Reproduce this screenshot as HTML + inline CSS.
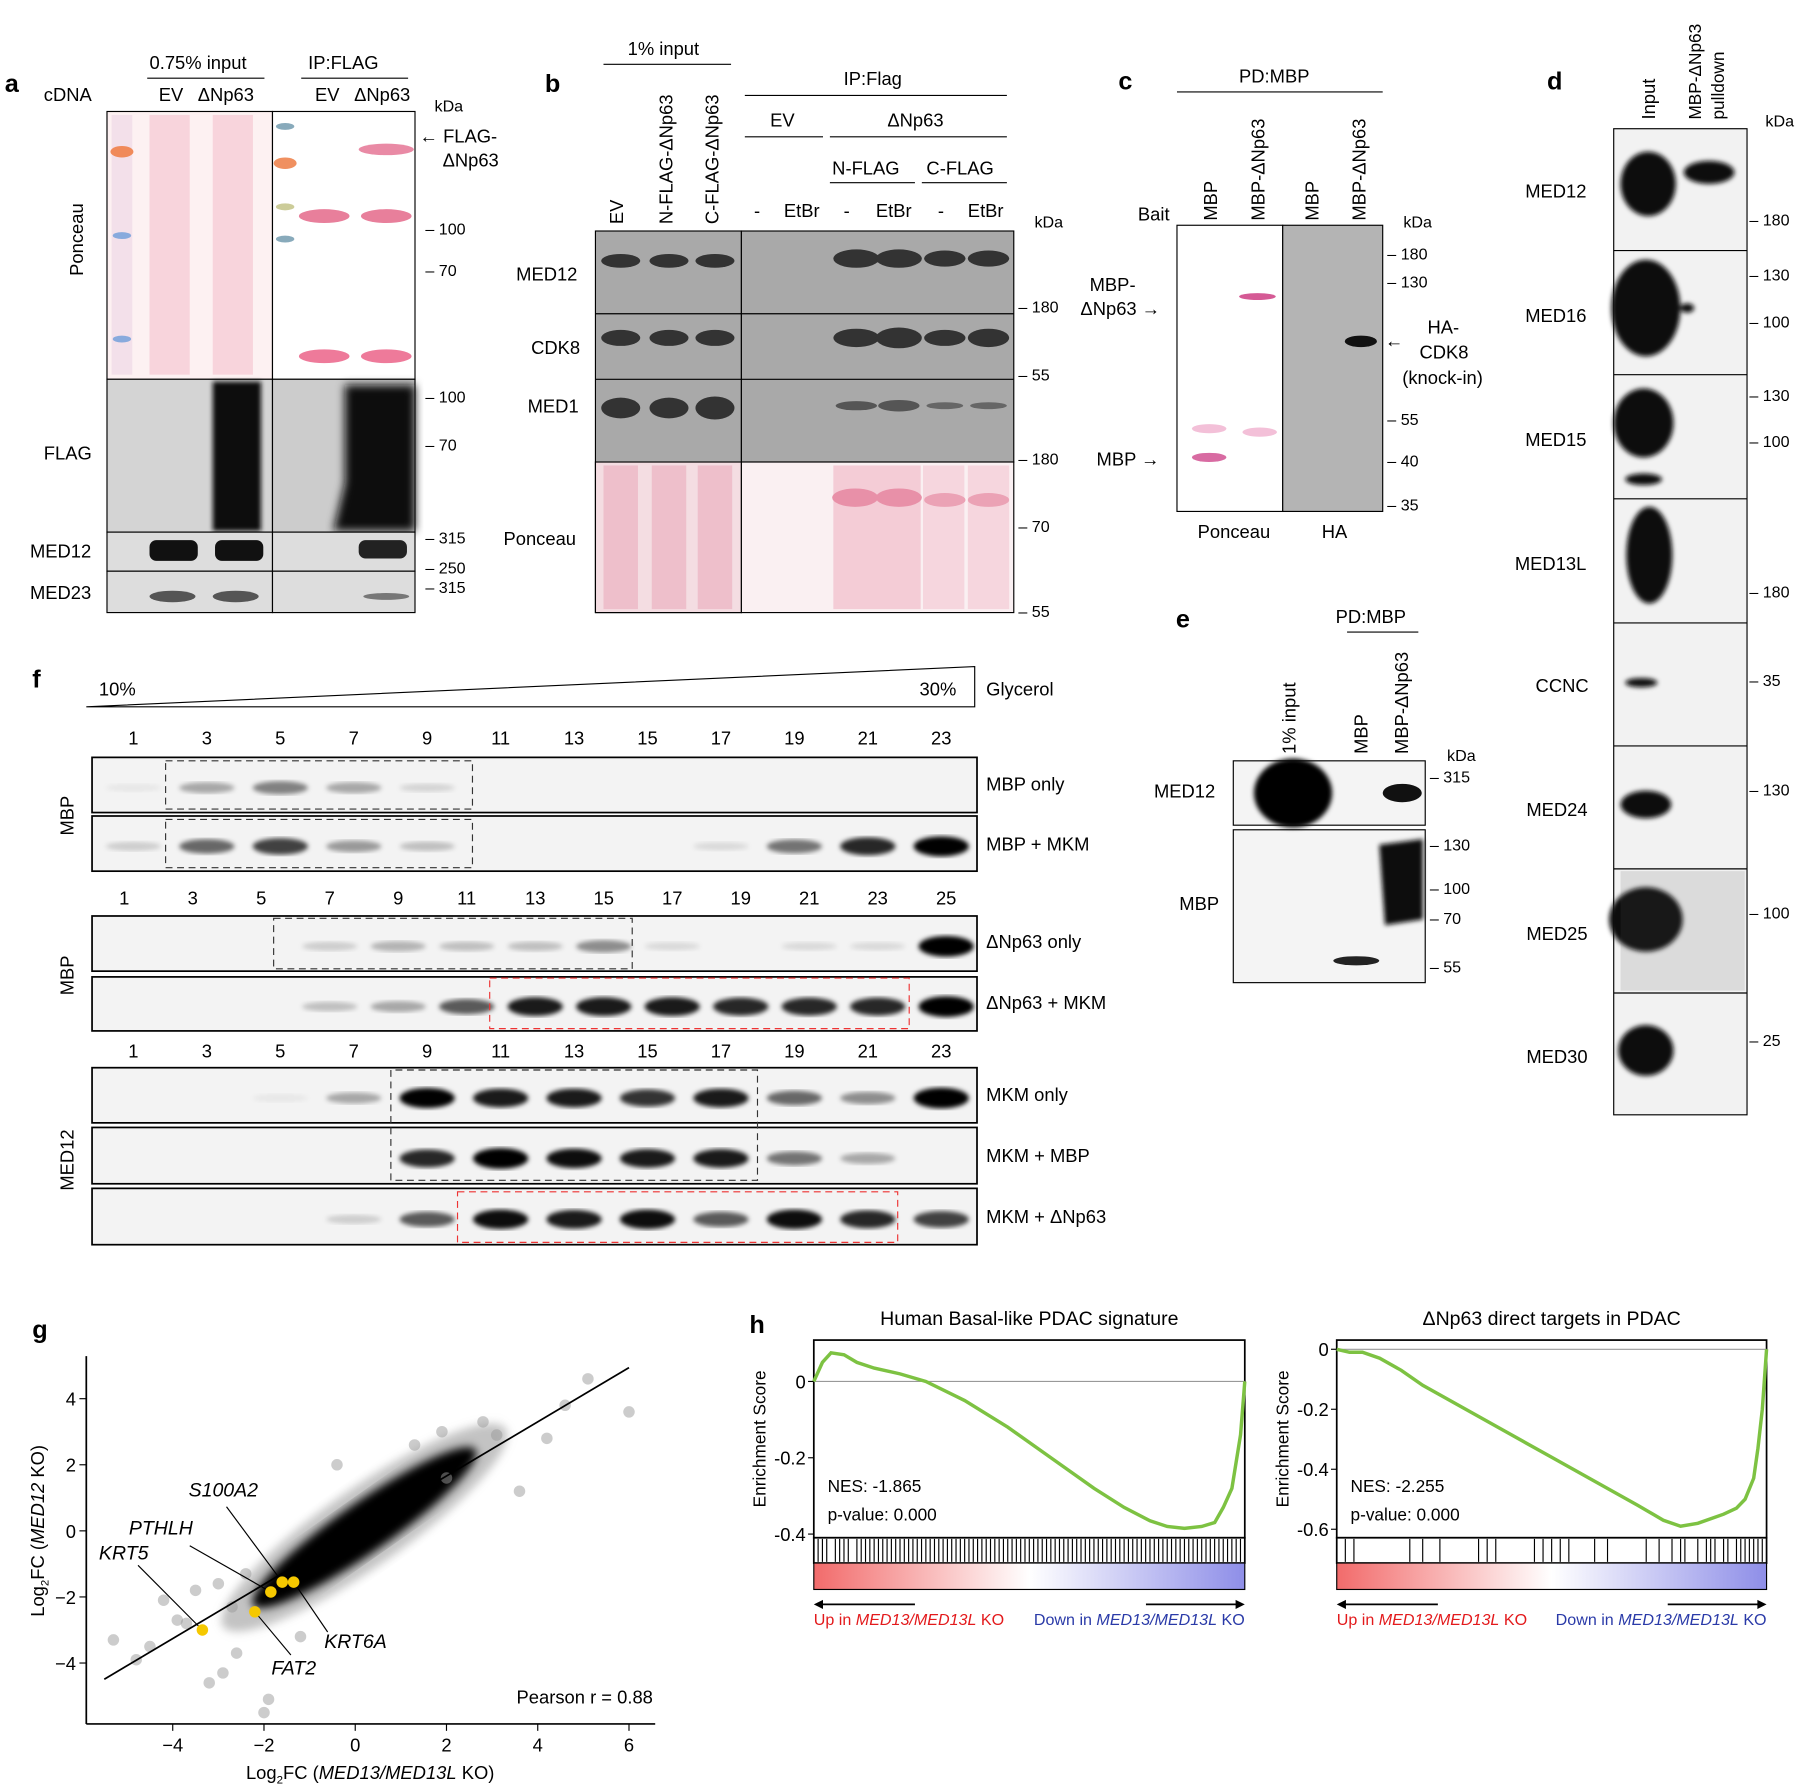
<!DOCTYPE html>
<html><head><meta charset="utf-8"><style>
html,body{margin:0;padding:0;background:#fff;overflow:hidden;}
svg{display:block;font-family:"Liberation Sans",sans-serif;}
</style></head><body>
<svg id="fig" width="1800" height="1786" viewBox="0 0 1566 1554" xmlns="http://www.w3.org/2000/svg">
<defs>
<linearGradient id="rg" x1="0" x2="1" y1="0" y2="0"><stop offset="0" stop-color="#f26b6b"/><stop offset="0.5" stop-color="#fff"/><stop offset="1" stop-color="#8e8ee8"/></linearGradient>
<filter id="bl"><feGaussianBlur stdDeviation="2"/></filter>
<filter id="bl4"><feGaussianBlur stdDeviation="4"/></filter>
</defs>
<g font-size="16" fill="#000">

<!-- Panel a -->
<g>
<text x="4" y="80" font-size="22" font-weight="bold">a</text>
<text x="38" y="88">cDNA</text>
<text x="130" y="60">0.75% input</text><line x1="128" y1="68" x2="230" y2="68" stroke="#000"/>
<text x="138" y="88">EV</text><text x="172" y="88">ΔNp63</text>
<text x="268" y="60">IP:FLAG</text><line x1="262" y1="68" x2="355" y2="68" stroke="#000"/>
<text x="274" y="88">EV</text><text x="308" y="88">ΔNp63</text>
<text x="378" y="97" font-size="14">kDa</text>
<rect x="93" y="97" width="144" height="233" fill="#fdf1f2" stroke="#000"/>
<rect x="97" y="100" width="18" height="226" fill="#f3e0ea"/>
<ellipse cx="106" cy="132" rx="10" ry="5" fill="#f08a5a"/>
<ellipse cx="106" cy="205" rx="8" ry="3" fill="#88aadd"/>
<ellipse cx="106" cy="295" rx="8" ry="3" fill="#88aadd"/>
<rect x="130" y="100" width="35" height="226" fill="#f8d4dc"/>
<rect x="185" y="100" width="35" height="226" fill="#f8d4dc"/>
<rect x="237" y="97" width="124" height="233" fill="#fff" stroke="#000"/>
<ellipse cx="248" cy="110" rx="8" ry="3" fill="#8ab"/>
<ellipse cx="248" cy="142" rx="10" ry="5" fill="#f09060"/>
<ellipse cx="248" cy="180" rx="8" ry="3" fill="#cc9"/>
<ellipse cx="248" cy="208" rx="8" ry="3" fill="#8ab"/>
<ellipse cx="336" cy="130" rx="24" ry="5" fill="#e98aa5"/>
<ellipse cx="282" cy="188" rx="22" ry="6" fill="#e87f9b"/>
<ellipse cx="336" cy="188" rx="22" ry="6" fill="#e87f9b"/>
<ellipse cx="282" cy="310" rx="22" ry="6" fill="#ee7a9a"/>
<ellipse cx="336" cy="310" rx="22" ry="6" fill="#ee7a9a"/>
<text x="365" y="124">← FLAG-</text><text x="385" y="145">ΔNp63</text>
<text x="370" y="204" font-size="14">– 100</text><text x="370" y="240" font-size="14">– 70</text>
<text x="82" y="250" font-size="16" transform="rotate(-90 72 250)">Ponceau</text>
<rect x="93" y="330" width="144" height="133" fill="#d4d4d4" stroke="#000"/>
<rect x="237" y="330" width="124" height="133" fill="#ccc" stroke="#000"/>
<rect x="185" y="332" width="42" height="130" fill="#111" filter="url(#bl)"/>
<path d="M300 335 L361 335 L361 462 L290 462 L300 420 Z" fill="#111" filter="url(#bl4)"/>
<text x="38" y="400">FLAG</text>
<text x="370" y="350" font-size="14">– 100</text><text x="370" y="392" font-size="14">– 70</text>
<rect x="93" y="463" width="144" height="34" fill="#ddd" stroke="#000"/>
<rect x="237" y="463" width="124" height="34" fill="#ddd" stroke="#000"/>
<rect x="130" y="470" width="42" height="18" rx="6" fill="#111"/><rect x="187" y="470" width="42" height="18" rx="6" fill="#111"/>
<rect x="312" y="470" width="42" height="16" rx="6" fill="#222"/>
<text x="26" y="485">MED12</text>
<rect x="93" y="497" width="144" height="36" fill="#ddd" stroke="#000"/>
<rect x="237" y="497" width="124" height="36" fill="#ddd" stroke="#000"/>
<ellipse cx="150" cy="519" rx="20" ry="5" fill="#555"/><ellipse cx="205" cy="519" rx="20" ry="5" fill="#555"/>
<ellipse cx="336" cy="519" rx="20" ry="3" fill="#777"/>
<text x="26" y="521">MED23</text>
<text x="370" y="473" font-size="14">– 315</text><text x="370" y="499" font-size="14">– 250</text><text x="370" y="516" font-size="14">– 315</text>
</g>

<!-- Panel b -->
<g>
<text x="474" y="80" font-size="22" font-weight="bold">b</text>
<text x="546" y="48">1% input</text><line x1="525" y1="56" x2="636" y2="56" stroke="#000"/>
<text x="542" y="195" transform="rotate(-90 542 195)">EV</text>
<text x="585" y="195" transform="rotate(-90 585 195)">N-FLAG-ΔNp63</text>
<text x="625" y="195" transform="rotate(-90 625 195)">C-FLAG-ΔNp63</text>
<text x="734" y="74">IP:Flag</text><line x1="648" y1="83" x2="876" y2="83" stroke="#000"/>
<text x="670" y="110">EV</text><line x1="648" y1="119" x2="716" y2="119" stroke="#000"/>
<text x="772" y="110">ΔNp63</text><line x1="722" y1="119" x2="876" y2="119" stroke="#000"/>
<text x="724" y="152">N-FLAG</text><line x1="722" y1="159" x2="796" y2="159" stroke="#000"/>
<text x="806" y="152">C-FLAG</text><line x1="802" y1="159" x2="876" y2="159" stroke="#000"/>
<text x="656" y="189">-</text><text x="682" y="189">EtBr</text><text x="734" y="189">-</text><text x="762" y="189">EtBr</text><text x="816" y="189">-</text><text x="842" y="189">EtBr</text>
<text x="900" y="198" font-size="14">kDa</text>
<rect x="518" y="201" width="127" height="332" fill="#a9a9a9" stroke="#000"/>
<rect x="645" y="201" width="237" height="201" fill="#a9a9a9" stroke="#000"/>
<line x1="518" y1="273" x2="882" y2="273" stroke="#000"/><line x1="518" y1="330" x2="882" y2="330" stroke="#000"/><line x1="518" y1="402" x2="882" y2="402" stroke="#000"/>
<rect x="518" y="402" width="127" height="131" fill="#f4dde2" stroke="#000"/>
<rect x="645" y="402" width="237" height="131" fill="#faf0f2" stroke="#000"/>
<g fill="#333">
<ellipse cx="540" cy="227" rx="17" ry="6"/><ellipse cx="582" cy="227" rx="17" ry="6"/><ellipse cx="622" cy="227" rx="17" ry="6"/>
<ellipse cx="745" cy="225" rx="20" ry="8"/><ellipse cx="782" cy="225" rx="20" ry="8"/><ellipse cx="822" cy="225" rx="18" ry="7"/><ellipse cx="860" cy="225" rx="18" ry="7"/>
<ellipse cx="540" cy="294" rx="17" ry="7"/><ellipse cx="582" cy="294" rx="17" ry="7"/><ellipse cx="622" cy="294" rx="17" ry="7"/>
<ellipse cx="745" cy="294" rx="20" ry="8"/><ellipse cx="782" cy="294" rx="20" ry="9"/><ellipse cx="822" cy="294" rx="18" ry="7"/><ellipse cx="860" cy="294" rx="18" ry="8"/>
<ellipse cx="540" cy="355" rx="17" ry="9"/><ellipse cx="582" cy="355" rx="17" ry="9"/><ellipse cx="622" cy="355" rx="17" ry="10"/>
<ellipse cx="745" cy="353" rx="18" ry="4" fill="#555"/><ellipse cx="782" cy="353" rx="18" ry="5" fill="#555"/><ellipse cx="822" cy="353" rx="16" ry="3" fill="#666"/><ellipse cx="860" cy="353" rx="16" ry="3" fill="#666"/>
</g>
<rect x="525" y="405" width="30" height="125" fill="#eebfcb"/><rect x="567" y="405" width="30" height="125" fill="#eebfcb"/><rect x="607" y="405" width="30" height="125" fill="#eebfcb"/>
<rect x="725" y="405" width="38" height="125" fill="#f4ccd6"/><rect x="763" y="405" width="38" height="125" fill="#f4ccd6"/><rect x="803" y="405" width="36" height="125" fill="#f6d6de"/><rect x="842" y="405" width="36" height="125" fill="#f6d6de"/>
<ellipse cx="744" cy="433" rx="20" ry="8" fill="#e890a8"/><ellipse cx="782" cy="433" rx="20" ry="8" fill="#e890a8"/><ellipse cx="822" cy="435" rx="18" ry="6" fill="#eba2b5"/><ellipse cx="860" cy="435" rx="18" ry="6" fill="#eba2b5"/>
<text x="449" y="244">MED12</text><text x="462" y="308">CDK8</text><text x="459" y="359">MED1</text><text x="438" y="474">Ponceau</text>
<text x="886" y="272" font-size="14">– 180</text><text x="886" y="331" font-size="14">– 55</text><text x="886" y="404" font-size="14">– 180</text><text x="886" y="463" font-size="14">– 70</text><text x="886" y="537" font-size="14">– 55</text>
</g>

<!-- Panel c -->
<g>
<text x="973" y="78" font-size="22" font-weight="bold">c</text>
<text x="1078" y="72">PD:MBP</text><line x1="1024" y1="80" x2="1203" y2="80" stroke="#000"/>
<text x="990" y="192">Bait</text>
<text x="1059" y="192" transform="rotate(-90 1059 192)">MBP</text>
<text x="1100" y="192" transform="rotate(-90 1100 192)">MBP-ΔNp63</text>
<text x="1147" y="192" transform="rotate(-90 1147 192)">MBP</text>
<text x="1188" y="192" transform="rotate(-90 1188 192)">MBP-ΔNp63</text>
<text x="1221" y="198" font-size="14">kDa</text>
<rect x="1024" y="196" width="92" height="249" fill="#fff" stroke="#000"/>
<rect x="1116" y="196" width="87" height="249" fill="#b4b4b4" stroke="#000"/>
<ellipse cx="1094" cy="258" rx="16" ry="3" fill="#d55a95"/>
<ellipse cx="1052" cy="373" rx="15" ry="4" fill="#f3c0d8"/><ellipse cx="1096" cy="376" rx="15" ry="4" fill="#f3c0d8"/>
<ellipse cx="1052" cy="398" rx="15" ry="4" fill="#d86ba2"/>
<ellipse cx="1184" cy="297" rx="14" ry="5" fill="#111"/>
<text x="948" y="253">MBP-</text><text x="940" y="274">ΔNp63 →</text>
<text x="954" y="405">MBP →</text>
<text x="1205" y="302">← </text><text x="1242" y="290">HA-</text><text x="1235" y="312">CDK8</text><text x="1220" y="334">(knock-in)</text>
<text x="1207" y="226" font-size="14">– 180</text><text x="1207" y="250" font-size="14">– 130</text><text x="1207" y="370" font-size="14">– 55</text><text x="1207" y="406" font-size="14">– 40</text><text x="1207" y="444" font-size="14">– 35</text>
<text x="1042" y="468">Ponceau</text><text x="1150" y="468">HA</text>
</g>

<!-- Panel d -->
<g>
<text x="1346" y="78" font-size="22" font-weight="bold">d</text>
<text x="1440" y="104" transform="rotate(-90 1440 104)">Input</text>
<text x="1480" y="104" transform="rotate(-90 1480 104)" font-size="15">MBP-ΔNp63</text>
<text x="1500" y="104" transform="rotate(-90 1500 104)" font-size="15">pulldown</text>
<text x="1536" y="110" font-size="14">kDa</text>
<rect x="1404" y="112" width="116" height="858" fill="#f2f2f2" stroke="#000"/>
<g stroke="#000"><line x1="1404" y1="218" x2="1520" y2="218"/><line x1="1404" y1="326" x2="1520" y2="326"/><line x1="1404" y1="434" x2="1520" y2="434"/><line x1="1404" y1="542" x2="1520" y2="542"/><line x1="1404" y1="649" x2="1520" y2="649"/><line x1="1404" y1="756" x2="1520" y2="756"/><line x1="1404" y1="864" x2="1520" y2="864"/></g>
<g fill="#0a0a0a" filter="url(#bl)">
<ellipse cx="1434" cy="160" rx="24" ry="28"/><ellipse cx="1487" cy="150" rx="22" ry="10"/>
<ellipse cx="1432" cy="268" rx="30" ry="42"/><ellipse cx="1468" cy="268" rx="6" ry="4"/>
<ellipse cx="1430" cy="368" rx="26" ry="30"/><ellipse cx="1430" cy="417" rx="16" ry="5"/>
<ellipse cx="1435" cy="483" rx="20" ry="42"/>
<ellipse cx="1428" cy="594" rx="14" ry="4"/>
<ellipse cx="1432" cy="700" rx="22" ry="12"/>
<ellipse cx="1432" cy="800" rx="32" ry="28"/>
<ellipse cx="1432" cy="914" rx="24" ry="22"/>
</g>
<rect x="1410" y="758" width="108" height="104" fill="#555" opacity="0.15"/>
<text x="1327" y="172">MED12</text><text x="1327" y="280">MED16</text><text x="1327" y="388">MED15</text><text x="1318" y="496">MED13L</text><text x="1336" y="602">CCNC</text><text x="1328" y="710">MED24</text><text x="1328" y="818">MED25</text><text x="1328" y="925">MED30</text>
<g font-size="14"><text x="1522" y="196">– 180</text><text x="1522" y="244">– 130</text><text x="1522" y="285">– 100</text><text x="1522" y="349">– 130</text><text x="1522" y="389">– 100</text><text x="1522" y="520">– 180</text><text x="1522" y="597">– 35</text><text x="1522" y="692">– 130</text><text x="1522" y="799">– 100</text><text x="1522" y="910">– 25</text></g>
</g>

<!-- Panel e -->
<g>
<text x="1023" y="546" font-size="22" font-weight="bold">e</text>
<text x="1162" y="542">PD:MBP</text><line x1="1172" y1="550" x2="1234" y2="550" stroke="#000"/>
<text x="1127" y="656" transform="rotate(-90 1127 656)">1% input</text>
<text x="1190" y="656" transform="rotate(-90 1190 656)">MBP</text>
<text x="1225" y="656" transform="rotate(-90 1225 656)">MBP-ΔNp63</text>
<text x="1259" y="662" font-size="14">kDa</text>
<rect x="1073" y="662" width="167" height="56" fill="#f4f4f4" stroke="#000"/>
<rect x="1073" y="722" width="167" height="133" fill="#f4f4f4" stroke="#000"/>
<ellipse cx="1125" cy="690" rx="34" ry="30" fill="#050505" filter="url(#bl)"/>
<ellipse cx="1220" cy="690" rx="17" ry="8" fill="#111"/>
<path d="M1200 735 L1238 730 L1238 800 L1205 805 Z" fill="#111" filter="url(#bl)"/>
<ellipse cx="1180" cy="836" rx="20" ry="4" fill="#222"/>
<text x="1004" y="694">MED12</text><text x="1026" y="792">MBP</text>
<g font-size="14"><text x="1244" y="681">– 315</text><text x="1244" y="740">– 130</text><text x="1244" y="778">– 100</text><text x="1244" y="804">– 70</text><text x="1244" y="846">– 55</text></g>
</g>

<!-- Panel f -->
<g>
<text x="28" y="598" font-size="22" font-weight="bold">f</text>
<polygon points="75,615 848,580 848,615" fill="none" stroke="#000"/>
<text x="86" y="605">10%</text><text x="800" y="605">30%</text><text x="858" y="605">Glycerol</text>
<g id="frows"></g>
<text x="64" y="727" transform="rotate(-90 64 727)">MBP</text>
<text x="64" y="866" transform="rotate(-90 64 866)">MBP</text>
<text x="64" y="1036" transform="rotate(-90 64 1036)">MED12</text>
<text x="858" y="688">MBP only</text><text x="858" y="740">MBP + MKM</text>
<text x="858" y="825">ΔNp63 only</text><text x="858" y="878">ΔNp63 + MKM</text>
<text x="858" y="958">MKM only</text><text x="858" y="1011">MKM + MBP</text><text x="858" y="1064">MKM + ΔNp63</text>
<rect x="144" y="662" width="267" height="42" fill="none" stroke="#333" stroke-dasharray="6,4"/>
<rect x="144" y="713" width="267" height="42" fill="none" stroke="#333" stroke-dasharray="6,4"/>
<rect x="238" y="799" width="312" height="44" fill="none" stroke="#333" stroke-dasharray="6,4"/>
<rect x="426" y="851" width="365" height="44" fill="none" stroke="#e33" stroke-dasharray="6,4"/>
<path d="M340 1027 L340 931 L659 931 L659 1027 Z" fill="none" stroke="#333" stroke-dasharray="6,4"/>
<rect x="398" y="1037" width="383" height="44" fill="none" stroke="#e33" stroke-dasharray="6,4"/>
</g>

<!-- Panel g -->
<g>
<text x="28" y="1164" font-size="22" font-weight="bold">g</text>
<g id="gchart"></g>
</g>

<!-- Panel h -->
<g>
<text x="652" y="1160" font-size="22" font-weight="bold">h</text>
<g id="hchart"></g>
</g>
</g>
</svg>
<script>
var NS="http://www.w3.org/2000/svg";
function mk(tag,attrs,parent,txt){var e=document.createElementNS(NS,tag);for(var k in attrs)e.setAttribute(k,attrs[k]);if(txt!==undefined)e.textContent=txt;parent.appendChild(e);return e;}

// ---- Panel f: fraction lanes ----
var fLabelsA=[1,3,5,7,9,11,13,15,17,19,21,23];
var fLabelsB=[1,3,5,7,9,11,13,15,17,19,21,23,25];
var fIntMBPonly=[0.05,0.3,0.45,0.3,0.12,0,0,0,0,0,0,0];
var fIntMBPmkm=[0.15,0.55,0.7,0.35,0.2,0,0,0,0.1,0.5,0.8,0.95];
var fIntNponly=[0,0,0,0.15,0.25,0.2,0.2,0.4,0.1,0,0.1,0.1,1];
var fIntNpmkm=[0,0,0,0.2,0.3,0.6,0.85,0.85,0.85,0.8,0.8,0.8,1];
var fIntMKMonly=[0,0,0.05,0.3,0.95,0.85,0.85,0.75,0.85,0.55,0.4,1];
var fIntMKMmbp=[0,0,0,0,0.8,1,0.9,0.85,0.85,0.5,0.3,0];
var fIntMKMnp=[0,0,0,0.15,0.6,0.9,0.85,0.9,0.6,0.9,0.8,0.7];
var fg=document.getElementById('frows');
function laneRow(y,h,labels,ints,x0,dx,numY){
  var r=mk('rect',{x:80,y:y,width:770,height:h,fill:'#f3f3f3',stroke:'#000','stroke-width':1.5},fg);
  
  
  if(numY){labels.forEach(function(l,i){var t=mk('text',{x:x0+i*dx,y:numY,'text-anchor':'middle'},fg,l);});}
  ints.forEach(function(v,i){if(v<=0)return;var e=mk('ellipse',{cx:x0+i*dx,cy:y+h*0.55,rx:24,ry:3+6*v,fill:'#000','fill-opacity':Math.min(1,v*1.05),filter:'url(#bl)'},fg);});
}
laneRow(659,48,fLabelsA,fIntMBPonly,116,63.9,648);
laneRow(710,48,fLabelsA,fIntMBPmkm,116,63.9,null);
laneRow(797,48,fLabelsB,fIntNponly,108,59.6,787);
laneRow(850,47,fLabelsB,fIntNpmkm,108,59.6,null);
laneRow(929,48,fLabelsA,fIntMKMonly,116,63.9,920);
laneRow(981,49,fLabelsA,fIntMKMmbp,116,63.9,null);
laneRow(1034,49,fLabelsA,fIntMKMnp,116,63.9,null);

// ---- Panel g: scatter ----
var gXTicks=[-4,-2,0,2,4,6];
var gYTicks=[-4,-2,0,2,4];
var gOutX=[-5.3,-4.8,-4.5,-4.2,-3.9,-3.5,-3.2,-2.9,-2.6,-2.4,-2.0,-1.9,-3.7,-1.2,1.3,2.0,2.8,3.1,3.6,4.2,4.6,5.1,6.0,-2.7,-3.0,1.9,-0.4];
var gOutY=[-3.3,-3.9,-3.5,-2.1,-2.7,-1.8,-4.6,-4.3,-3.7,-1.3,-5.5,-5.1,-2.8,-3.2,2.6,1.6,3.3,2.9,1.2,2.8,3.8,4.6,3.6,-2.3,-1.6,3.0,2.0];
var gHiNames=["KRT5","FAT2","PTHLH","S100A2","KRT6A"];
var gHiX=[-3.35,-2.2,-1.85,-1.6,-1.35];
var gHiY=[-3.0,-2.45,-1.85,-1.55,-1.55];
var gSlope=0.82, gIntercept=0.02;
var gc=document.getElementById('gchart');
function gx(v){return 309+v*39.7;}
function gy(v){return 1332-v*28.75;}
mk('line',{x1:75,y1:1500,x2:570,y2:1500,stroke:'#000','stroke-width':1.5},gc);
mk('line',{x1:75,y1:1180,x2:75,y2:1500,stroke:'#000','stroke-width':1.5},gc);
gXTicks.forEach(function(t){mk('line',{x1:gx(t),y1:1500,x2:gx(t),y2:1506,stroke:'#000'},gc);var e=mk('text',{x:gx(t),y:1524,'text-anchor':'middle'},gc,t<0?'−'+(-t):t);});
gYTicks.forEach(function(t){mk('line',{x1:69,y1:gy(t),x2:75,y2:gy(t),stroke:'#000'},gc);var e=mk('text',{x:66,y:gy(t)+6,'text-anchor':'end'},gc,t<0?'−'+(-t):t);});
var xt=mk('text',{x:322,y:1548,'text-anchor':'middle'},gc);


xt.innerHTML='Log<tspan font-size="10" dy="4">2</tspan><tspan dy="-4">FC (</tspan><tspan font-style="italic">MED13/MED13L</tspan> KO)';
var yt=mk('text',{x:0,y:0,'text-anchor':'middle',transform:'translate(38 1332) rotate(-90)'},gc);


yt.innerHTML='Log<tspan font-size="10" dy="4">2</tspan><tspan dy="-4">FC (</tspan><tspan font-style="italic">MED12</tspan> KO)';
// dense cloud (density shape, not data)
var cx0=gx(0.2), cy0=gy(0.1);
mk('ellipse',{cx:cx0,cy:cy0,rx:150,ry:34,transform:'rotate(-35 '+cx0+' '+cy0+')',fill:'#888','fill-opacity':0.5,filter:'url(#bl4)'},gc);
mk('ellipse',{cx:cx0,cy:cy0,rx:118,ry:22,transform:'rotate(-35 '+cx0+' '+cy0+')',fill:'#000',filter:'url(#bl4)'},gc);
gOutX.forEach(function(v,i){var c=mk('circle',{cx:gx(v),cy:gy(gOutY[i]),r:5,fill:'#999','fill-opacity':0.5},gc);});
var rl=mk('line',{x1:gx(-5.5),y1:gy(-5.5*gSlope+gIntercept),x2:gx(6),y2:gy(6*gSlope+gIntercept),stroke:'#000','stroke-width':1.5},gc);


var gLabPos=[[86,1357,-1],[236,1457,1],[112,1335,-1],[164,1302,-1],[282,1434,1]];
var gLabEnd=[[120,1362],[253,1440],[165,1345],[197,1311],[285,1420]];
gHiX.forEach(function(v,i){
  mk('line',{x1:gLabEnd[i][0],y1:gLabEnd[i][1],x2:gx(v),y2:gy(gHiY[i]),stroke:'#000'},gc);
  var c=mk('circle',{cx:gx(v),cy:gy(gHiY[i]),r:5,fill:'#f5c800'},gc);
  
  
  var t=mk('text',{x:gLabPos[i][0],y:gLabPos[i][1],'font-style':'italic','font-size':17},gc,gHiNames[i]);
  
  
});
var pr=mk('text',{x:568,y:1482,'text-anchor':'end'},gc,'Pearson r = 0.88');



// ---- Panel h: GSEA ----
var h1Rank=[0,0.02,0.04,0.07,0.1,0.14,0.2,0.26,0.35,0.45,0.55,0.65,0.72,0.78,0.82,0.86,0.9,0.93,0.95,0.97,0.99,1.0];
var h1ES=[0,0.05,0.075,0.07,0.05,0.035,0.02,0,-0.05,-0.12,-0.2,-0.28,-0.33,-0.365,-0.38,-0.385,-0.38,-0.37,-0.33,-0.28,-0.14,0];
var h2Rank=[0,0.03,0.06,0.1,0.15,0.2,0.3,0.4,0.5,0.6,0.7,0.76,0.8,0.84,0.88,0.9,0.93,0.95,0.97,0.98,0.99,1.0];
var h2ES=[0,-0.01,-0.01,-0.03,-0.07,-0.12,-0.2,-0.28,-0.36,-0.44,-0.52,-0.57,-0.59,-0.58,-0.56,-0.55,-0.53,-0.5,-0.43,-0.33,-0.2,0];
var h1Ticks=[0,-0.2,-0.4];
var h2Ticks=[0,-0.2,-0.4,-0.6];
var h1Hits=[0.01,0.02,0.03,0.05,0.06,0.07,0.08,0.1,0.11,0.12,0.13,0.14,0.15,0.16,0.17,0.18,0.19,0.2,0.21,0.22,0.23,0.24,0.25,0.26,0.27,0.28,0.29,0.3,0.31,0.32,0.33,0.34,0.35,0.36,0.37,0.38,0.39,0.4,0.41,0.42,0.43,0.44,0.45,0.46,0.47,0.48,0.49,0.5,0.51,0.52,0.53,0.54,0.55,0.56,0.57,0.58,0.59,0.6,0.61,0.62,0.63,0.64,0.65,0.66,0.67,0.68,0.69,0.7,0.71,0.72,0.73,0.74,0.75,0.76,0.77,0.78,0.79,0.8,0.81,0.82,0.83,0.84,0.85,0.86,0.87,0.88,0.89,0.9,0.91,0.92,0.93,0.94,0.95,0.96,0.97,0.98,0.99];
var h2Hits=[0.02,0.04,0.17,0.2,0.24,0.33,0.35,0.37,0.46,0.48,0.5,0.52,0.54,0.6,0.63,0.72,0.75,0.78,0.8,0.81,0.84,0.86,0.87,0.88,0.9,0.91,0.93,0.94,0.95,0.96,0.97,0.98,0.99];
var hc=document.getElementById('hchart');
function gsea(x0,x1,yTop,yZero,scale,rank,es,ticks,hits,title,nes){
  var w=x1-x0;
  function sx(r){return x0+r*w;}
  function sy(v){return yZero-v*scale;}
  var t=mk('text',{x:(x0+x1)/2,y:1153,'text-anchor':'middle','font-size':17},hc,title);
  mk('rect',{x:x0,y:yTop,width:w,height:1338-yTop,fill:'#fff',stroke:'#000','stroke-width':1.5},hc);
  mk('line',{x1:x0,y1:sy(0),x2:x1,y2:sy(0),stroke:'#999'},hc);
  ticks.forEach(function(tv){mk('line',{x1:x0-5,y1:sy(tv),x2:x0,y2:sy(tv),stroke:'#000'},hc);var e=mk('text',{x:x0-7,y:sy(tv)+6,'text-anchor':'end'},hc,tv===0?'0':String(tv));});
  var yl=mk('text',{x:0,y:0,'text-anchor':'middle','font-size':15,transform:'translate('+(x0-42)+' 1252) rotate(-90)'},hc,'Enrichment Score');
  var d=rank.map(function(r,i){return (i?'L':'M')+sx(r).toFixed(1)+' '+sy(es[i]).toFixed(1);}).join(' ');
  var p=mk('path',{d:d,fill:'none',stroke:'#7dc242','stroke-width':3},hc);
  mk('rect',{x:x0,y:1338,width:w,height:22,fill:'#fff',stroke:'#000','stroke-width':1.5},hc);
  hits.forEach(function(h){var l=mk('line',{x1:sx(h),y1:1339,x2:sx(h),y2:1359,stroke:'#000','stroke-width':1},hc);});
  mk('rect',{x:x0,y:1360,width:w,height:23,fill:'url(#rg)',stroke:'#000'},hc);
  mk('line',{x1:x0+2,y1:1396,x2:x0+88,y2:1396,stroke:'#000','stroke-width':1.5},hc);
  mk('path',{d:'M'+x0+' 1396 l8 -4 l0 8 z',fill:'#000'},hc);
  mk('line',{x1:x1-86,y1:1396,x2:x1-2,y2:1396,stroke:'#000','stroke-width':1.5},hc);
  mk('path',{d:'M'+x1+' 1396 l-8 -4 l0 8 z',fill:'#000'},hc);
  var u=mk('text',{x:x0,y:1414,fill:'#e31a1c','font-size':14},hc);u.innerHTML='Up in <tspan font-style="italic">MED13/MED13L</tspan> KO';
  var dn=mk('text',{x:x1,y:1414,fill:'#2a3aa8','font-size':14,'text-anchor':'end'},hc);dn.innerHTML='Down in <tspan font-style="italic">MED13/MED13L</tspan> KO';
  var n1=mk('text',{x:x0+12,y:1298,'font-size':15},hc,'NES: '+nes);
  var n2=mk('text',{x:x0+12,y:1323,'font-size':15},hc,'p-value: 0.000');
}
gsea(708,1083,1166,1202,332,h1Rank,h1ES,h1Ticks,h1Hits,'Human Basal-like PDAC signature','-1.865');
gsea(1163,1537,1166,1174,261,h2Rank,h2ES,h2Ticks,h2Hits,'ΔNp63 direct targets in PDAC','-2.255');
</script>
</body></html>
